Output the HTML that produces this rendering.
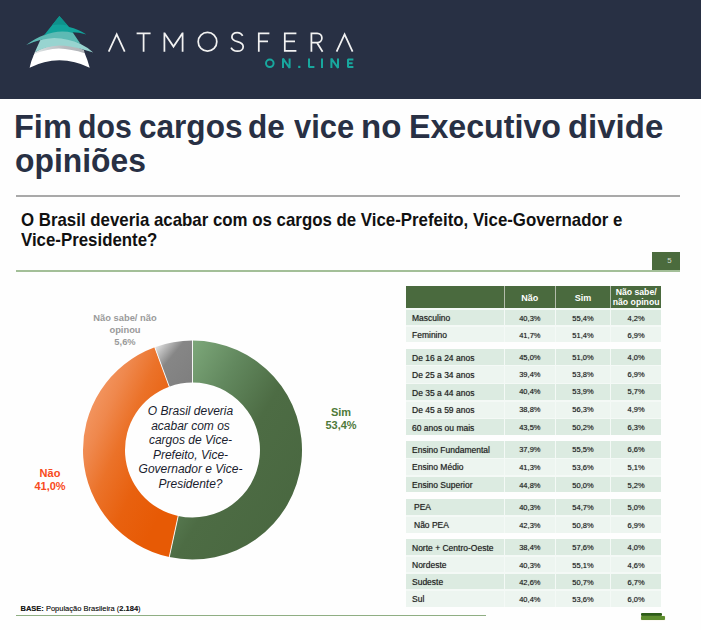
<!DOCTYPE html>
<html lang="pt-BR">
<head>
<meta charset="utf-8">
<title>Fim dos cargos de vice no Executivo divide opiniões</title>
<style>
*{margin:0;padding:0;box-sizing:border-box}
html,body{width:701px;height:630px;overflow:hidden;background:#fefefe;font-family:"Liberation Sans",sans-serif}
body{position:relative;font-family:"Liberation Sans",sans-serif;color:#222}
.abs{position:absolute}
#hdr{left:0;top:0;width:701px;height:99.2px;background:#283044}
#logo{left:0;top:0;width:701px;height:99px}
#title{left:0;top:110px;width:701px;height:70px;font-weight:bold;font-size:34px;line-height:33px;color:#283044;white-space:nowrap}
#title span{position:absolute;display:block;transform-origin:0 0}
#rule1{left:16px;top:195px;width:664px;height:2px;background:#a9a9a9}
#q{left:21px;top:209.9px;font-weight:bold;font-size:17.52px;line-height:20.3px;color:#111;white-space:nowrap;transform-origin:0 0;transform:scaleX(.9617)}
#rule2{left:16px;top:270.3px;width:664.4px;height:1.3px;background:#a3bf98}
#pg{left:651.8px;top:252px;width:28.6px;height:18.4px;background:#4b6b3d;color:#d2dbcd;font-size:7.9px;text-align:center;line-height:18.4px;padding-left:6.5px;padding-top:.4px}
#rule3{left:16px;top:615px;width:469.6px;height:1.3px;background:#8fae83}
#base{left:20.5px;top:603.7px;font-size:7.5px;line-height:10px;color:#1a1a1a;white-space:nowrap;text-shadow:0 0 .6px rgba(20,20,20,.5)}
.lbl{font-weight:bold;text-align:center;white-space:nowrap;transform:translateX(-50%)}
#lns{left:125px;top:311.6px;font-size:9.35px;line-height:12px;color:#9a9a9a}
#lsim{left:341px;top:406px;font-size:11px;line-height:13px;color:#4f7a3a}
#lnao{left:50px;top:467px;font-size:11px;line-height:13px;color:#f84a20}
#ctr{left:190.5px;top:404px;font-style:italic;font-size:12px;line-height:14.6px;color:#1a1d2e;text-align:center;white-space:nowrap;transform:translateX(-50%)}
#donut{left:0;top:280px;width:400px;height:300px}
/* table */
.row{position:absolute;left:406px;width:255.3px;font-size:8.5px;color:#222;background:#f4f9f6}
.row span{position:absolute;top:0;display:block;padding-top:.5px;text-shadow:0 0 .7px rgba(20,20,20,.55);line-height:inherit}
.c0{left:0;width:97.6px;padding-left:6px}
.c1{left:99px;width:49.7px;text-align:center;font-size:7.5px}
.c2{left:150.2px;width:53.5px;text-align:center;font-size:7.5px}
.c3{left:205px;width:50.3px;text-align:center;font-size:7.5px}
.d span{background:#dcebe1}
.l span{background:#edf5f0}
.h{background:#b3bcab}
.h span{height:21.9px;background:#4a6a3e;color:#fff;font-weight:bold;font-size:9px !important;line-height:21.9px;padding-top:2px;text-shadow:none}
.h .two{font-size:8.7px !important;line-height:9.6px;padding-top:2.2px}
.h{background:linear-gradient(#b3bcab 21.9px,#f4f9f6 21.9px)}
</style>
</head>
<body>
<div id="hdr" class="abs"></div>
<svg id="logo" class="abs" viewBox="0 0 701 99">
<!-- mark -->
<defs><linearGradient id="gy" x1="0" y1="0" x2="1" y2="0"><stop offset="0" stop-color="#e2eaea"/><stop offset="0.3" stop-color="#c9cdd0"/><stop offset="0.6" stop-color="#b7babe"/><stop offset="1" stop-color="#b2b5b9"/></linearGradient></defs>
<g id="mark">
<path fill="url(#gy)" d="M34.8,52.2 Q58,38 83.9,49.9 L85.2,55 Q71.4,51 58.8,50.6 Q46.2,51.2 33.6,56 Z"/>
<path fill="#ffffff" d="M34.2,54 Q46.2,49.2 58.8,48.6 Q71.4,49 84.7,53.3 Q87.6,59.8 89.7,67.7 Q75,60.2 59.4,60.2 Q44,60.2 29.6,67.7 Q31.2,60.4 34.2,54 Z"/>
<path fill="#98d4d0" d="M40.2,40.2 Q56,30 80.6,43.9 Q87.5,47 93.2,52.6 Q88,50.8 83.9,49.7 Q71.4,45.5 58.8,45.4 Q46,46.2 34.8,52.2 Z"/>
<path fill="#5dbab4" d="M26.2,44.9 Q35.5,38 44.2,34.9 Q58.8,25 72.8,32.4 L80.6,43.9 Q68,38.6 54.2,38 Q40.5,38.6 26.2,44.9 Z"/>
<path fill="#12a39b" d="M59.4,15.9 L69.1,27.1 Q78.5,29.3 86.4,34.6 Q78.5,32.2 72.6,32.2 L73.4,33 Q58.8,29.2 43.8,35.4 Z"/>
<path fill="#0e928c" d="M59.4,15.9 L67.6,25.4 Q59.5,23.6 52.3,25 Z"/>
</g>
<g id="word" fill="none" stroke="#f2f2f2" stroke-width="1.75" stroke-linecap="butt" stroke-linejoin="miter">
<path d="M108.7,51.7 L116.7,34.4 L124.7,51.7"/>
<path d="M136.6,33.3 H150.6 M143.6,33.3 V51.7"/>
<path d="M164.4,51.7 V32.6 M182.6,32.6 V51.7 M164.7,33.4 L173.5,46.6 L182.3,33.4"/>
<ellipse cx="207.5" cy="41.8" rx="9.3" ry="9.4"/>
<path d="M242.6,35.9 C241.6,33.7 239.6,32.5 237.2,32.5 C234.2,32.5 231.9,34.3 231.9,37 C231.9,39.8 234,40.8 237.4,41.7 C240.8,42.6 243.2,43.8 243.2,46.7 C243.2,49.4 240.6,51.2 237.4,51.2 C234.6,51.2 232.2,50 231.1,47.6"/>
<path d="M258.8,51.7 V33.3 H269.4 M258.8,41.4 H268"/>
<path d="M296.4,33.3 H284.8 V50.9 H296.4 M284.8,41.4 H295"/>
<path d="M311.4,51.7 V33.3 H317.2 A4.7,4.7 0 0 1 317.2,42.7 H311.4 M317,42.7 L322.6,51.7"/>
<path d="M336.6,51.7 L344.6,34.4 L352.6,51.7"/>
</g>
<g id="online" fill="none" stroke="#18a79e" stroke-width="2" stroke-linecap="butt" stroke-linejoin="bevel">
<ellipse cx="269.8" cy="63.3" rx="3.8" ry="3.7"/>
<path d="M283,68 V58.6 L289.6,68 V58.6"/>
<path d="M309,58.6 V67 H314.4"/>
<path d="M322,58.6 V68"/>
<path d="M331.4,68 V58.6 L338,68 V58.6"/>
<path d="M353.4,59.6 H348 V67 H353.4 M348,63.3 H352.6"/>
</g>
<rect x="298.2" y="65.8" width="2.2" height="2.2" fill="#18a79e"/>
</svg>

<div id="title" class="abs"><span style="left:14.09px;top:0.0px;transform:scaleX(0.956)">Fim</span><span style="left:78.11px;top:0.0px;transform:scaleX(0.888)">dos</span><span style="left:139.07px;top:0.0px;transform:scaleX(0.928)">cargos</span><span style="left:248.37px;top:0.0px;transform:scaleX(0.927)">de</span><span style="left:294.00px;top:0.0px;transform:scaleX(0.909)">vice</span><span style="left:361.36px;top:0.0px;transform:scaleX(0.972)">no</span><span style="left:408.81px;top:0.0px;transform:scaleX(0.946)">Executivo</span><span style="left:568.33px;top:0.0px;transform:scaleX(0.969)">divide</span><span style="left:15.06px;top:33.9px;transform:scaleX(0.936)">opiniões</span></div>
<div id="rule1" class="abs"></div>
<div id="q" class="abs">O Brasil deveria acabar com os cargos de Vice-Prefeito, Vice-Governador e<br>Vice-Presidente?</div>
<div id="pg" class="abs">5</div>
<div id="rule2" class="abs"></div>

<svg id="donut" class="abs" viewBox="0 280 400 300">
<defs>
<linearGradient id="gG" x1="0" y1="0" x2="1" y2="1">
<stop offset="0" stop-color="#88b285"/><stop offset="0.12" stop-color="#79a376"/><stop offset="0.3" stop-color="#62885e"/><stop offset="0.52" stop-color="#4d6c44"/><stop offset="1" stop-color="#48663f"/>
</linearGradient>
<linearGradient id="gO" x1="0" y1="0" x2="1" y2="1">
<stop offset="0" stop-color="#f6a574"/><stop offset="0.19" stop-color="#f2935d"/><stop offset="0.28" stop-color="#ef884d"/><stop offset="0.42" stop-color="#eb7229"/><stop offset="0.6" stop-color="#e8610f"/><stop offset="0.8" stop-color="#e75a05"/>
</linearGradient>
<linearGradient id="gN" x1="0" y1="0" x2="1" y2="1">
<stop offset="0.05" stop-color="#ececec"/><stop offset="0.2" stop-color="#bdbdbd"/><stop offset="0.4" stop-color="#868686"/><stop offset="1" stop-color="#7e7e7e"/>
</linearGradient>
</defs>
<g>
<path fill="url(#gG)" d="M192.50,340.50 A109.5,109.5 0 1 1 169.29,557.01 L178.19,515.97 A67.5,67.5 0 1 0 192.50,382.50 Z"/>
<path fill="url(#gO)" d="M169.29,557.01 A109.5,109.5 0 0 1 154.76,347.21 L169.24,386.64 A67.5,67.5 0 0 0 178.19,515.97 Z"/>
<path fill="url(#gN)" d="M154.76,347.21 A109.5,109.5 0 0 1 192.50,340.50 L192.50,382.50 A67.5,67.5 0 0 0 169.24,386.64 Z"/>
</g>
<g stroke="#fff" stroke-width="1" stroke-opacity=".9"><line x1="192.50" y1="383.00" x2="192.50" y2="340.00"/><line x1="178.30" y1="515.48" x2="169.18" y2="557.50"/><line x1="169.41" y1="387.10" x2="154.59" y2="346.74"/></g>
</svg>

<div id="lns" class="abs lbl">Não sabe/ não<br>opinou<br>5,6%</div>
<div id="lsim" class="abs lbl">Sim<br>53,4%</div>
<div id="lnao" class="abs lbl">Não<br>41,0%</div>
<div id="ctr" class="abs">O Brasil deveria<br>acabar com os<br>cargos de Vice-<br>Prefeito, Vice-<br>Governador e Vice-<br>Presidente?</div>

<div id="base" class="abs"><b>BASE:</b> População Brasileira (<b>2.184</b>)</div>
<div id="rule3" class="abs"></div>

<div class="abs" style="left:641px;top:613px;width:20.7px;height:3.1px;background:#2c5c17;border-radius:1px"></div>
<div class="abs" style="left:641px;top:616.1px;width:23.6px;height:4px;background:#5d8d2e;border-radius:1px;box-shadow:0 0 1px #d9c98a"></div>
<div id="tbl">
<div class="row h" style="top:286px;height:24.1px"><span class="c0"></span><span class="c1">Não</span><span class="c2">Sim</span><span class="c3 two">Não sabe/<br>não opinou</span></div>
<div class="row d" style="top:310.1px;height:17.1px;line-height:15.2px"><span class="c0" style="height:15.2px">Masculino</span><span class="c1" style="height:15.2px">40,3%</span><span class="c2" style="height:15.2px">55,4%</span><span class="c3" style="height:15.2px">4,2%</span></div>
<div class="row l" style="top:327.2px;height:15.2px;line-height:15.2px"><span class="c0" style="height:15.2px">Feminino</span><span class="c1" style="height:15.2px">41,7%</span><span class="c2" style="height:15.2px">51,4%</span><span class="c3" style="height:15.2px">6,9%</span></div>
<div class="row d" style="top:348.9px;height:17.5px;line-height:16.2px"><span class="c0" style="height:16.2px;padding-top:1.5px">De 16 a 24 anos</span><span class="c1" style="height:16.2px;padding-top:1.0px">45,0%</span><span class="c2" style="height:16.2px;padding-top:1.0px">51,0%</span><span class="c3" style="height:16.2px;padding-top:1.0px">4,0%</span></div>
<div class="row l" style="top:366.4px;height:17.5px;line-height:16.3px"><span class="c0" style="height:16.3px">De 25 a 34 anos</span><span class="c1" style="height:16.3px">39,4%</span><span class="c2" style="height:16.3px">53,8%</span><span class="c3" style="height:16.3px">6,9%</span></div>
<div class="row d" style="top:383.9px;height:17.8px;line-height:16.1px"><span class="c0" style="height:16.1px;padding-top:1.0px">De 35 a 44 anos</span><span class="c1" style="height:16.1px;padding-top:0.5px">40,4%</span><span class="c2" style="height:16.1px;padding-top:0.5px">53,9%</span><span class="c3" style="height:16.1px;padding-top:0.5px">5,7%</span></div>
<div class="row l" style="top:401.7px;height:17.4px;line-height:16.1px"><span class="c0" style="height:16.1px">De 45 a 59 anos</span><span class="c1" style="height:16.1px">38,8%</span><span class="c2" style="height:16.1px">56,3%</span><span class="c3" style="height:16.1px">4,9%</span></div>
<div class="row d" style="top:419.1px;height:15.9px;line-height:15.9px"><span class="c0" style="height:15.9px;padding-top:1.5px">60 anos ou mais</span><span class="c1" style="height:15.9px;padding-top:1.0px">43,5%</span><span class="c2" style="height:15.9px;padding-top:1.0px">50,2%</span><span class="c3" style="height:15.9px;padding-top:1.0px">6,3%</span></div>
<div class="row d" style="top:441.1px;height:18.0px;line-height:16.5px"><span class="c0" style="height:16.5px">Ensino Fundamental</span><span class="c1" style="height:16.5px">37,9%</span><span class="c2" style="height:16.5px">55,5%</span><span class="c3" style="height:16.5px">6,6%</span></div>
<div class="row l" style="top:459.1px;height:17.6px;line-height:15.9px"><span class="c0" style="height:15.9px">Ensino Médio</span><span class="c1" style="height:15.9px">41,3%</span><span class="c2" style="height:15.9px">53,6%</span><span class="c3" style="height:15.9px">5,1%</span></div>
<div class="row d" style="top:476.7px;height:15.8px;line-height:15.8px"><span class="c0" style="height:15.8px;padding-top:1.5px">Ensino Superior</span><span class="c1" style="height:15.8px;padding-top:1.0px">44,8%</span><span class="c2" style="height:15.8px;padding-top:1.0px">50,0%</span><span class="c3" style="height:15.8px;padding-top:1.0px">5,2%</span></div>
<div class="row d" style="top:498.9px;height:17.8px;line-height:15.9px"><span class="c0" style="height:15.9px;padding-top:1.2px;padding-left:8px">PEA</span><span class="c1" style="height:15.9px;padding-top:0.7px">40,3%</span><span class="c2" style="height:15.9px;padding-top:0.7px">54,7%</span><span class="c3" style="height:15.9px;padding-top:0.7px">5,0%</span></div>
<div class="row l" style="top:516.7px;height:15.9px;line-height:15.9px"><span class="c0" style="height:15.9px;padding-top:1.5px;padding-left:8px">Não PEA</span><span class="c1" style="height:15.9px;padding-top:1.0px">42,3%</span><span class="c2" style="height:15.9px;padding-top:1.0px">50,8%</span><span class="c3" style="height:15.9px;padding-top:1.0px">6,9%</span></div>
<div class="row d" style="top:538.9px;height:17.8px;line-height:15.9px"><span class="c0" style="height:15.9px;padding-top:2.1px">Norte + Centro-Oeste</span><span class="c1" style="height:15.9px;padding-top:1.6px">38,4%</span><span class="c2" style="height:15.9px;padding-top:1.6px">57,6%</span><span class="c3" style="height:15.9px;padding-top:1.6px">4,0%</span></div>
<div class="row l" style="top:556.7px;height:17.4px;line-height:15.5px"><span class="c0" style="height:15.5px;padding-top:1.7px">Nordeste</span><span class="c1" style="height:15.5px;padding-top:1.2px">40,3%</span><span class="c2" style="height:15.5px;padding-top:1.2px">55,1%</span><span class="c3" style="height:15.5px;padding-top:1.2px">4,6%</span></div>
<div class="row d" style="top:574.1px;height:17.3px;line-height:15.3px"><span class="c0" style="height:15.3px">Sudeste</span><span class="c1" style="height:15.3px">42,6%</span><span class="c2" style="height:15.3px">50,7%</span><span class="c3" style="height:15.3px">6,7%</span></div>
<div class="row l" style="top:591.4px;height:15.8px;line-height:15.8px"><span class="c0" style="height:15.8px;padding-top:1.0px">Sul</span><span class="c1" style="height:15.8px;padding-top:0.5px">40,4%</span><span class="c2" style="height:15.8px;padding-top:0.5px">53,6%</span><span class="c3" style="height:15.8px;padding-top:0.5px">6,0%</span></div>
</div>
</body>
</html>
